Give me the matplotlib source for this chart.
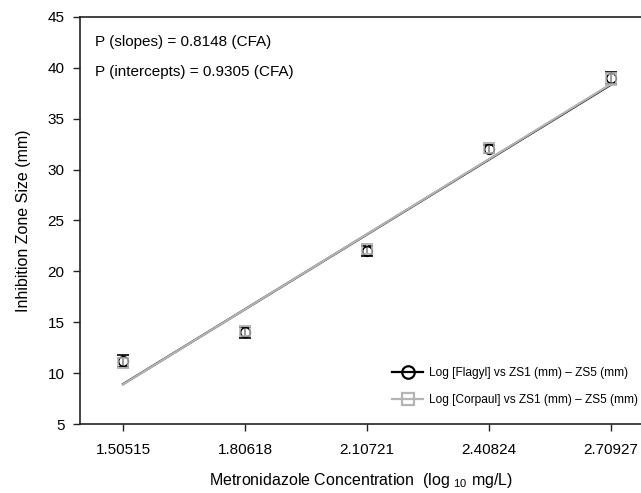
import numpy as np
import matplotlib
matplotlib.use("Agg")
import matplotlib.pyplot as plt

plt.rcParams["font.family"] = ["Liberation Sans", "DejaVu Sans"]
plt.rcParams["mathtext.fontset"] = "custom"
plt.rcParams["mathtext.rm"] = "Liberation Sans"

# ---- data ----
LOG_CONC = [1.50515, 1.80618, 2.10721, 2.40824, 2.70927]
TICK_LABELS = ["1.50515", "1.80618", "2.10721", "2.40824", "2.70927"]
FLAGYL = [11.2, 14.0, 22.0, 32.0, 39.0]
FLAGYL_ERR = [0.6, 0.5, 0.5, 0.4, 0.6]
CORPAUL = [11.0, 14.1, 22.2, 32.1, 38.9]
CORPAUL_ERR = [0.5, 0.5, 0.5, 0.5, 0.6]
P_SLOPES = "0.8148"
P_INTERCEPTS = "0.9305"

W, H = 641, 493
fig = plt.figure(figsize=(W / 100, H / 100), dpi=100)
ax = fig.add_axes([80 / W, 1 - 424 / H, 1 - 80 / W + 0.002, (424 - 17) / H])

x = np.array(LOG_CONC)
xx = np.array([x[0], x[-1]])

series = [
    ("Log [Flagyl] vs ZS1 (mm) \u2013 ZS5 (mm)", FLAGYL, FLAGYL_ERR, "black", "o"),
    ("Log [Corpaul] vs ZS1 (mm) \u2013 ZS5 (mm)", CORPAUL, CORPAUL_ERR, "#b4b4b4", "s"),
]
handles = []
for label, y, err, col, mk in series:
    k, b = np.polyfit(x, y, 1)
    ax.plot(xx, k * xx + b, color=col, lw=1.6, zorder=2)
    ax.errorbar(x, y, yerr=err, fmt="none", ecolor=col, elinewidth=1.2,
                capsize=4, capthick=1.2, zorder=3)
    ax.plot(x, y, ls="none", marker=mk, ms=7, mfc="none", mec=col, mew=1.1, zorder=4)
    h, = ax.plot([], [], color=col, lw=1.6, marker=mk, ms=9, mfc="none", mec=col, mew=1.6)
    handles.append((h, label))

ax.set_xlim(1.399, 2.786)
ax.set_ylim(5, 45)
ax.set_xticks(LOG_CONC)
ax.set_xticklabels(TICK_LABELS)
ax.set_yticks(range(5, 46, 5))
ax.tick_params(axis="both", direction="out", length=5, width=1, labelsize=11, pad=6,
               color="#222222")
ax.tick_params(axis="x", pad=9)
for s in ["left", "bottom", "top"]:
    ax.spines[s].set_linewidth(1.2)
    ax.spines[s].set_color("#222222")
ax.spines["right"].set_visible(False)

ax.set_xlabel(r"Metronidazole Concentration  (log $_{\mathrm{10}}$ mg/L)", fontsize=11.5,
              labelpad=10)
ax.set_ylabel("Inhibition Zone Size (mm)", fontsize=11.5, labelpad=12)

fig.text(95 / W, 1 - 42 / H, f"P (slopes) = {P_SLOPES} (CFA)", fontsize=11, va="center")
fig.text(95 / W, 1 - 72 / H, f"P (intercepts) = {P_INTERCEPTS} (CFA)", fontsize=11, va="center")

ax.legend([h for h, _ in handles], [l for _, l in handles], loc="upper left",
          bbox_to_anchor=(392 / W, 1 - 367 / H), bbox_transform=fig.transFigure,
          frameon=False, fontsize=8.6, handlelength=2.6, handletextpad=0.5,
          labelspacing=1.25, borderpad=0, borderaxespad=0)

fig.savefig("out.png", dpi=100)
